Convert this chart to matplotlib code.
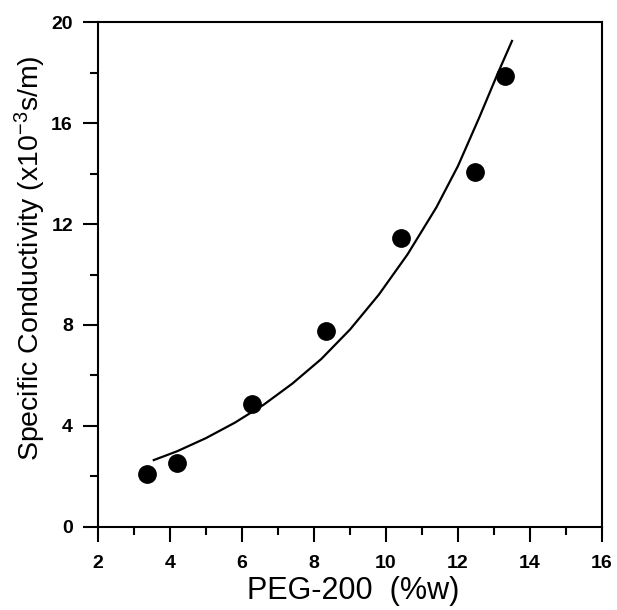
import matplotlib
matplotlib.use("Agg")
import matplotlib.pyplot as plt
from matplotlib.ticker import MultipleLocator

plt.rcParams['font.family'] = ['Liberation Sans', 'DejaVu Sans']
plt.rcParams['mathtext.default'] = 'regular'

## Data ---------------------------------------------

# measured points
peg = [3.35, 4.20, 6.29, 8.33, 10.42, 12.48, 13.30]
conductivity = [2.10, 2.52, 4.88, 7.76, 11.45, 14.06, 17.86]

# fitted curve
fit_x = [3.55, 4.2, 5.0, 5.8, 6.6, 7.4, 8.2, 9.0, 9.8, 10.6, 11.4, 12.0, 12.6, 13.1, 13.5]
fit_y = [2.65, 3.00, 3.52, 4.13, 4.84, 5.68, 6.65, 7.82, 9.20, 10.80, 12.66, 14.30, 16.25, 17.95, 19.25]

xticks = [2, 4, 6, 8, 10, 12, 14, 16]
yticks = [0, 4, 8, 12, 16, 20]

## Figure -------------------------------------------

fig = plt.figure(figsize=(6.17, 6.10), dpi=100)
ax = fig.add_axes([0.1588, 0.1361, 0.8169, 0.8278])

ax.plot(fit_x, fit_y, color='black', linewidth=1.6, zorder=2)
ax.plot(peg, conductivity, linestyle='none', marker='o', markersize=12.5,
        color='black', zorder=3)

ax.set_xlim(2, 16)
ax.set_ylim(0, 20)
ax.set_xticks(xticks)
ax.set_yticks(yticks)
ax.xaxis.set_minor_locator(MultipleLocator(1))
ax.yaxis.set_minor_locator(MultipleLocator(2))

for s in ax.spines.values():
    s.set_linewidth(1.5)

ax.tick_params(which='major', direction='out', length=11, width=1.5,
               labelsize=14)
ax.tick_params(which='minor', direction='out', length=5.5, width=1.5)
ax.tick_params(axis='x', which='major', pad=9)
ax.tick_params(axis='y', which='major', pad=7)
for lab in ax.get_xticklabels() + ax.get_yticklabels():
    lab.set_fontweight('bold')

ax.set_xlabel('PEG-200  (%w)', fontsize=22)
ax.set_ylabel(r'Specific Conductivity (x10$^{-3}$s/m)', fontsize=20.5)
ax.xaxis.set_label_coords(0.507, -0.098)
ax.yaxis.set_label_coords(-0.099, 0.533)

fig.savefig('out.png', dpi=100)
